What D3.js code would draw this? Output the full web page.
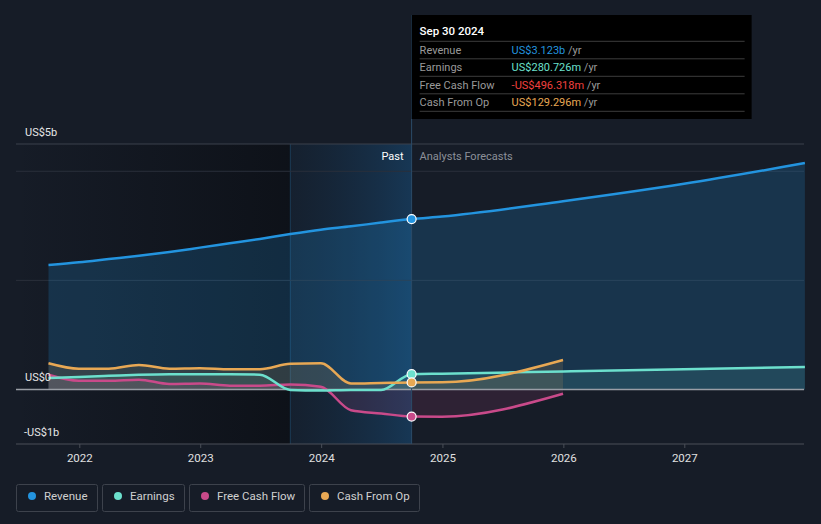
<!DOCTYPE html>
<html><head><meta charset="utf-8">
<script src="https://cdn.jsdelivr.net/npm/d3@7"></script>
<style>
html,body{margin:0;padding:0;background:#161c27;}
svg{display:block;font-family:Roboto,"Noto Sans",sans-serif;}
</style></head>
<body>
<svg id="c" width="821" height="524"></svg>
<script>
// ---- data ----
const pastDates = ["2021-09-30","2021-12-31","2022-03-31","2022-06-30","2022-09-30","2022-12-31","2023-03-31","2023-06-30","2023-09-30","2023-12-31","2024-03-31","2024-06-30","2024-09-30"];
const revenuePast  = [2.28,2.33,2.39,2.45,2.52,2.60,2.68,2.76,2.85,2.93,2.99,3.06,3.123];
const earningsPast = [0.21,0.23,0.25,0.27,0.28,0.28,0.28,0.27,-0.01,-0.02,-0.01,-0.01,0.2807];
const fcfPast      = [0.27,0.16,0.16,0.18,0.10,0.11,0.07,0.07,0.09,0.05,-0.38,-0.44,-0.4963];
const cfoPast      = [0.48,0.38,0.38,0.45,0.38,0.39,0.37,0.37,0.47,0.48,0.11,0.12,0.1293];

const fcDatesLong  = ["2024-09-30","2024-12-31","2025-12-31","2026-12-31","2027-12-31"];
const revenueFc    = [3.123,3.17,3.45,3.77,4.15];
const earningsFc   = [0.2807,0.29,0.33,0.37,0.41];
const fcDatesShort = ["2024-09-30","2024-12-31","2025-12-31"];
const fcfFc        = [-0.4963,-0.50,-0.08];
const cfoFc        = [0.1293,0.13,0.54];

const yTickVals   = [-1, 0, 4.5];
const yTickLabels = ["-US$1b","US$0","US$5b"];
const gridVals    = [2, 4];
const xTickYears  = [2022,2023,2024,2025,2026,2027];

const seriesNames  = ["Revenue","Earnings","Free Cash Flow","Cash From Op"];
const seriesColors = ["#2394df","#6ce0cd","#c94a8a","#e8a854"];
const tipValues    = ["US$3.123b","US$280.726m","-US$496.318m","US$129.296m"];
const tipColors    = ["#2394df","#6ce0cd","#f0413f","#e8a854"];
const tipDate = "Sep 30 2024";

(function(){
const svg = d3.select("#c");
const P = d3.timeParse("%Y-%m-%d");
const pL = 16, pR = 804, pT = 144, pB = 444;
const x = d3.scaleTime()
  .domain([P("2022-01-01"), P("2027-01-01")])
  .range([79.3, 684.3]);
const y = d3.scaleLinear().domain([-1, 4.5]).range([pB, pT]);

const nowD = P("2024-09-30"), bandD = P("2023-09-30");
const xNow = x(nowD), xBand = x(bandD);

svg.append("rect").attr("width",821).attr("height",524).attr("fill","#161c27");
const defs = svg.append("defs");
const gPast = defs.append("linearGradient").attr("id","gPast").attr("x1","0").attr("x2","1");
gPast.append("stop").attr("offset","0").attr("stop-color","#0b0e14").attr("stop-opacity",0);
gPast.append("stop").attr("offset","1").attr("stop-color","#0b0e14").attr("stop-opacity",0.75);
const gBand = defs.append("linearGradient").attr("id","gBand").attr("x1","0").attr("x2","1");
gBand.append("stop").attr("offset","0").attr("stop-color","#14283d").attr("stop-opacity",0.35);
gBand.append("stop").attr("offset","1").attr("stop-color","#173a5a").attr("stop-opacity",0.9);

svg.append("rect").attr("x",pL).attr("y",pT).attr("width",xBand-pL).attr("height",pB-pT).attr("fill","url(#gPast)");
svg.append("rect").attr("x",xBand).attr("y",pT).attr("width",xNow-xBand).attr("height",pB-pT).attr("fill","url(#gBand)");
svg.append("line").attr("x1",xBand).attr("x2",xBand).attr("y1",pT).attr("y2",pB).attr("stroke","#1c3a54").attr("stroke-width",1);

svg.append("line").attr("x1",pL).attr("x2",pR).attr("y1",pT).attr("y2",pT).attr("stroke","#3a404c").attr("stroke-width",1);
gridVals.forEach(v=>{
  svg.append("line").attr("x1",pL).attr("x2",pR).attr("y1",y(v)).attr("y2",y(v)).attr("stroke","#2a303b").attr("stroke-width",1);
});

const mk = (dates, vals) => dates.map((d,i)=>({d:P(d), v:vals[i]}));
const series = [
  {past: mk(pastDates, revenuePast),  fc: mk(fcDatesLong, revenueFc)},
  {past: mk(pastDates, earningsPast), fc: mk(fcDatesLong, earningsFc)},
  {past: mk(pastDates, fcfPast),      fc: mk(fcDatesShort, fcfFc)},
  {past: mk(pastDates, cfoPast),      fc: mk(fcDatesShort, cfoFc)}
];
const line = d3.line().x(p=>x(p.d)).y(p=>y(p.v)).curve(d3.curveMonotoneX);
const area = d3.area().x(p=>x(p.d)).y0(y(0)).y1(p=>y(p.v)).curve(d3.curveMonotoneX);
const areaOp = [0.2, 0.12, 0.14, 0.14];

series.forEach((s,i)=>{
  const all = s.past.concat(s.fc.slice(1));
  svg.append("path").attr("d",area(all)).attr("fill",seriesColors[i]).attr("fill-opacity",areaOp[i]);
});
svg.append("line").attr("x1",pL).attr("x2",pR).attr("y1",y(0)).attr("y2",y(0)).attr("stroke","#9a9ea6").attr("stroke-width",1.5);
[0,2,1,3].forEach(i=>{
  const s = series[i];
  const all = s.past.concat(s.fc.slice(1));
  svg.append("path").attr("d",line(all)).attr("fill","none").attr("stroke",seriesColors[i]).attr("stroke-width",2.5);
});

svg.append("line").attr("x1",pL).attr("x2",pR).attr("y1",pB).attr("y2",pB).attr("stroke","#4a4f58").attr("stroke-width",1);
const xAxis = d3.axisBottom(x).tickValues(xTickYears.map(yr=>new Date(yr,0,1))).tickFormat(d3.timeFormat("%Y")).tickSize(4).tickPadding(6);
const gx = svg.append("g").attr("transform",`translate(0,${pB})`).call(xAxis);
gx.select(".domain").remove();
gx.selectAll(".tick line").attr("stroke","#4a4f58");
gx.selectAll(".tick text").attr("fill","#e0e0e0").attr("font-size",11.5).attr("font-family","Roboto,sans-serif");

yTickVals.forEach((v,i)=>{
  svg.append("text").attr("x", i===0?24:25).attr("y", y(v)-8).attr("fill","#e6e6e6").attr("font-size",11).text(yTickLabels[i]);
});

svg.append("text").attr("x",xNow-8).attr("y",160).attr("text-anchor","end").attr("fill","#ffffff").attr("font-size",11).text("Past");
svg.append("text").attr("x",xNow+8).attr("y",160).attr("fill","#8c9099").attr("font-size",11).text("Analysts Forecasts");

svg.append("line").attr("x1",xNow).attr("x2",xNow).attr("y1",15).attr("y2",pB).attr("stroke","#2b4b68").attr("stroke-width",1);

[0,1,3,2].forEach(i=>{
  const p = series[i].past[series[i].past.length-1];
  svg.append("circle").attr("cx",x(p.d)).attr("cy",y(p.v)).attr("r",4.5).attr("fill",seriesColors[i]).attr("stroke","#ffffff").attr("stroke-width",1.2);
});

const tx = xNow, ty = 15, tw = 340, th = 104;
svg.append("rect").attr("x",tx).attr("y",ty).attr("width",tw).attr("height",th).attr("fill","#000000");
svg.append("text").attr("x",tx+8).attr("y",ty+20).attr("fill","#ffffff").attr("font-size",11.5).attr("font-weight",500).text(tipDate);
const rowH = 17.5;
for (let i=0;i<4;i++){
  const ly = ty+26.3+rowH*i;
  svg.append("line").attr("x1",tx+8).attr("x2",tx+333).attr("y1",ly).attr("y2",ly).attr("stroke","#3c3c3c").attr("stroke-width",1);
  svg.append("text").attr("x",tx+8).attr("y",ly+12.5).attr("fill","#9a9a9a").attr("font-size",11).text(seriesNames[i]);
  const v = svg.append("text").attr("x",tx+100).attr("y",ly+12.5).attr("font-size",11);
  v.append("tspan").attr("fill",tipColors[i]).text(tipValues[i]);
  v.append("tspan").attr("fill","#9a9a9a").text(" /yr");
}
svg.append("line").attr("x1",tx+8).attr("x2",tx+333).attr("y1",ty+26.3+rowH*4).attr("y2",ty+26.3+rowH*4).attr("stroke","#3c3c3c").attr("stroke-width",1);

const legX = [16.5,102.5,189.5,309.5], legW = [81,82,115,110];
seriesNames.forEach((n,i)=>{
  const g = svg.append("g").attr("transform",`translate(${legX[i]},484.5)`);
  g.append("rect").attr("width",legW[i]).attr("height",27).attr("rx",2).attr("fill","none").attr("stroke","#3d424c").attr("stroke-width",1);
  g.append("circle").attr("cx",15.5).attr("cy",11.5).attr("r",4).attr("fill",seriesColors[i]);
  g.append("text").attr("x",27.5).attr("y",15.5).attr("fill","#d0d0d0").attr("font-size",11.5).text(n);
});
})();
</script>
</body></html>
